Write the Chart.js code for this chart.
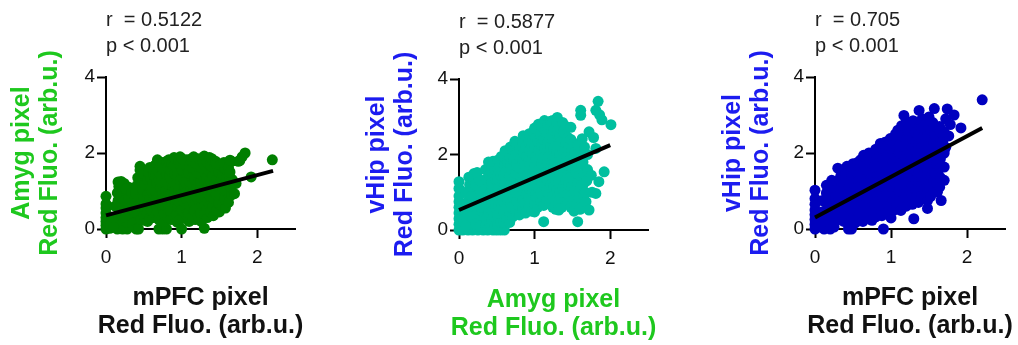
<!DOCTYPE html>
<html>
<head>
<meta charset="utf-8">
<script src="https://cdn.jsdelivr.net/npm/chart.js@4.4.0/dist/chart.umd.min.js"></script>
<style>
  html, body { margin: 0; padding: 0; background: #fff; }
  #wrap { position: relative; width: 1018px; height: 345px; }
  #wrap canvas { position: absolute; top: 0; }
</style>
</head>
<body>
<div id="wrap">
  <canvas id="c1" width="340" height="345" style="left:0px"></canvas>
  <canvas id="c2" width="340" height="345" style="left:340px"></canvas>
  <canvas id="c3" width="338" height="345" style="left:680px"></canvas>
</div>
<script>
// pixel red fluorescence: [x, y]
const mpfcAmygPoints = [
  [0,0],[0,0.1],[0,0.2],[0,0.3],[0,0.42],[0,0.55],[0,0.66],[0,0.86],
  [0.05,0.02],[0.04,0.25],[0.06,0.12],
  [0.15,0],[0.16,0.15],[0.15,0.35],[0.17,0.55],[0.16,0.75],[0.15,0.95],[0.17,1.12],[0.16,1.24],
  [0.22,0],[0.21,0.2],[0.23,0.4],[0.22,0.6],[0.2,0.8],[0.22,1.0],[0.24,1.2],[0.2,1.25],
  [0.28,0],[0.27,0.18],[0.29,0.42],[0.28,0.65],[0.27,0.9],[0.3,1.1],[0.33,0.55],[0.33,0.3],
  [0.1,0.05],[0.1,0.3],[0.12,0.6],[0.18,0.45],[0.19,0.9],[0.25,0.3],[0.25,0.75],[0.26,1.05],[0.3,0.8],[0.34,0.95],[0.35,0.15],
  [0.4,0],[0.43,0],[0.7,0],[0.75,0],[0.8,0],[1.0,0],[1.3,0.02],[0.5,0.23],
  [0.38,0.45],[0.4,0.7],[0.39,0.95],[0.41,1.15],[0.42,1.35],
  [0.46,0.25],[0.47,0.55],[0.45,0.8],[0.48,1.05],[0.46,1.3],[0.45,1.55],[0.45,1.65],
  [0.5,0.35],[0.5,0.78],[0.51,1.18],[0.5,1.45],
  [0.55,0.2],[0.54,0.4],[0.56,0.65],[0.55,0.9],[0.57,1.1],[0.55,1.3],[0.56,1.5],
  [0.58,0.28],[0.59,0.55],[0.58,0.82],[0.6,1.05],[0.59,1.35],[0.58,1.62],
  [0.62,0.3],[0.6,0.5],[0.63,0.75],[0.61,0.98],[0.62,1.2],[0.63,1.42],[0.61,1.6],
  [0.66,0.38],[0.67,0.6],[0.66,0.8],[0.65,1.0],[0.67,1.22],[0.66,1.45],[0.65,1.68],
  [0.7,0.25],[0.69,0.45],[0.71,0.68],[0.7,0.88],[0.72,1.08],[0.7,1.3],[0.69,1.52],[0.71,1.7],[0.68,1.82],
  [0.74,0.3],[0.75,0.55],[0.74,0.78],[0.75,0.98],[0.74,1.18],[0.73,1.4],[0.75,1.58],[0.74,1.75],
  [0.78,0.2],[0.77,0.4],[0.79,0.62],[0.77,0.82],[0.79,1.02],[0.78,1.22],[0.8,1.45],[0.77,1.62],[0.8,1.78],
  [0.82,0.3],[0.83,0.58],[0.82,0.78],[0.83,0.98],[0.82,1.18],[0.84,1.4],[0.82,1.62],[0.83,1.82],
  [0.86,0.25],[0.85,0.48],[0.87,0.7],[0.85,0.9],[0.88,1.12],[0.86,1.32],[0.85,1.55],[0.87,1.72],[0.9,1.88],
  [0.9,0.35],[0.91,0.6],[0.9,0.8],[0.91,1.02],[0.9,1.22],[0.91,1.45],[0.9,1.65],
  [0.94,0.18],[0.93,0.38],[0.95,0.58],[0.93,0.8],[0.96,1.0],[0.94,1.2],[0.95,1.42],[0.93,1.62],[0.96,1.8],
  [0.98,0.25],[0.99,0.48],[0.98,0.7],[0.99,0.9],[0.98,1.1],[0.99,1.3],[0.98,1.52],[0.99,1.7],[0.98,1.9],
  [1.02,0.3],[1.01,0.5],[1.03,0.72],[1.0,0.92],[1.04,1.12],[1.02,1.34],[1.01,1.55],[1.03,1.75],[1.0,1.86],
  [1.06,0.38],[1.07,0.6],[1.06,0.8],[1.07,1.0],[1.06,1.22],[1.07,1.42],[1.06,1.65],[1.07,1.82],
  [1.1,0.2],[1.09,0.42],[1.11,0.62],[1.1,0.85],[1.12,1.05],[1.1,1.25],[1.09,1.48],[1.11,1.68],[1.13,1.85],
  [1.14,0.32],[1.15,0.55],[1.14,0.75],[1.15,0.98],[1.14,1.18],[1.15,1.4],[1.14,1.6],[1.15,1.78],
  [1.18,0.25],[1.17,0.48],[1.19,0.7],[1.18,0.9],[1.2,1.12],[1.17,1.32],[1.19,1.55],[1.18,1.72],[1.16,1.9],
  [1.22,0.32],[1.23,0.58],[1.22,0.78],[1.23,1.0],[1.22,1.22],[1.23,1.45],[1.22,1.65],[1.23,1.85],
  [1.26,0.2],[1.25,0.4],[1.27,0.62],[1.26,0.82],[1.28,1.02],[1.25,1.22],[1.27,1.42],[1.26,1.62],[1.28,1.8],[1.3,1.92],
  [1.3,0.4],[1.31,0.62],[1.3,0.85],[1.31,1.08],[1.3,1.28],[1.31,1.48],[1.3,1.7],
  [1.34,0.3],[1.33,0.52],[1.35,0.72],[1.34,0.95],[1.36,1.15],[1.33,1.35],[1.35,1.55],[1.34,1.75],[1.37,1.88],
  [1.38,0.45],[1.39,0.65],[1.38,0.85],[1.39,1.05],[1.38,1.28],[1.39,1.48],[1.38,1.68],[1.4,1.85],
  [1.42,0.35],[1.41,0.58],[1.43,0.8],[1.42,1.0],[1.44,1.2],[1.41,1.4],[1.43,1.6],[1.45,1.78],
  [1.46,0.48],[1.47,0.7],[1.46,0.92],[1.47,1.12],[1.46,1.32],[1.47,1.52],[1.46,1.7],
  [1.5,0.45],[1.49,0.68],[1.51,0.9],[1.5,1.1],[1.52,1.3],[1.49,1.5],[1.51,1.68],
  [1.54,0.6],[1.55,0.82],[1.54,1.05],[1.55,1.25],[1.54,1.45],[1.55,1.62],
  [1.58,0.55],[1.57,0.78],[1.59,1.0],[1.58,1.2],[1.6,1.4],[1.57,1.6],[1.56,1.75],
  [1.62,0.7],[1.63,0.95],[1.62,1.2],[1.63,1.4],[1.62,1.62],
  [1.66,0.9],[1.65,1.1],[1.67,1.3],[1.64,1.5],[1.66,1.78],[1.7,0.93],[1.72,1.2],[1.75,1.78],
  [1.64,1.81],[1.77,1.8],[1.84,2.0],[1.8,1.9],[1.92,1.37],[2.2,1.82]
];
const amygVhipPoints = [
  [0,0],[0,0.15],[0,0.3],[0,0.45],[0,0.6],[0,0.75],[0,0.9],[0,1.1],[0,1.28],
  [0.05,0],[0.06,0.2],[0.04,0.5],
  [0.12,0],[0.13,0.2],[0.12,0.4],[0.14,0.6],[0.13,0.8],[0.12,1.0],[0.14,1.2],[0.13,1.4],
  [0.18,0],[0.19,0.25],[0.2,0.5],[0.18,0.75],[0.2,1.0],[0.19,1.25],[0.2,1.5],
  [0.25,0],[0.26,0.3],[0.24,0.55],[0.26,0.85],[0.25,1.1],[0.26,1.35],[0.24,1.52],
  [0.32,0],[0.31,0.2],[0.33,0.45],[0.32,0.7],[0.3,0.95],[0.33,1.2],
  [0.09,0.1],[0.09,0.35],[0.1,0.7],[0.09,1.0],[0.16,0.35],[0.16,0.9],[0.16,1.15],[0.22,0.15],[0.22,0.65],[0.22,1.2],
  [0.28,0.1],[0.29,0.6],[0.29,1.0],[0.28,1.3],[0.35,0.1],
  [0.38,0],[0.45,0],[0.5,0],[0.55,0],[0.6,0],[0.42,0.05],
  [0.36,0.3],[0.36,0.6],[0.36,0.85],[0.37,1.1],[0.36,1.35],[0.35,1.6],
  [0.4,0.2],[0.39,0.45],[0.41,0.7],[0.4,0.95],[0.42,1.2],[0.4,1.45],[0.39,1.8],
  [0.43,0.25],[0.44,0.5],[0.43,0.75],[0.44,1.0],[0.43,1.25],[0.44,1.5],[0.43,1.7],
  [0.47,0.1],[0.46,0.35],[0.48,0.6],[0.47,0.85],[0.46,1.1],[0.48,1.35],[0.47,1.6],[0.45,1.82],
  [0.51,0.12],[0.51,0.35],[0.52,0.6],[0.51,0.85],[0.52,1.1],[0.51,1.35],[0.52,1.6],[0.51,1.85],
  [0.55,0.2],[0.54,0.45],[0.56,0.7],[0.55,0.95],[0.57,1.2],[0.55,1.45],[0.54,1.7],[0.56,1.95],
  [0.59,0.2],[0.59,0.45],[0.6,0.7],[0.59,0.95],[0.6,1.2],[0.59,1.45],[0.6,1.7],[0.59,1.95],
  [0.63,0.3],[0.62,0.55],[0.64,0.8],[0.63,1.05],[0.65,1.3],[0.62,1.55],[0.64,1.8],[0.61,2.1],
  [0.67,0.2],[0.67,0.45],[0.68,0.7],[0.67,0.95],[0.68,1.2],[0.67,1.45],[0.68,1.7],[0.67,1.95],[0.68,2.2],
  [0.71,0.35],[0.7,0.6],[0.72,0.85],[0.71,1.1],[0.73,1.35],[0.7,1.6],[0.72,1.85],[0.71,2.1],[0.74,2.35],
  [0.75,0.5],[0.76,0.75],[0.75,1.0],[0.76,1.25],[0.75,1.5],[0.76,1.75],[0.75,2.0],[0.76,2.25],
  [0.8,0.4],[0.79,0.65],[0.81,0.9],[0.8,1.15],[0.82,1.4],[0.79,1.65],[0.81,1.9],[0.8,2.15],[0.85,2.5],
  [0.84,0.55],[0.84,0.8],[0.85,1.05],[0.84,1.3],[0.85,1.55],[0.84,1.8],[0.85,2.05],[0.84,2.3],
  [0.88,0.45],[0.87,0.7],[0.89,0.95],[0.88,1.2],[0.9,1.45],[0.87,1.7],[0.89,1.95],[0.88,2.2],[0.9,2.45],
  [0.92,0.6],[0.92,0.85],[0.93,1.1],[0.92,1.35],[0.93,1.6],[0.92,1.85],[0.93,2.1],[0.92,2.35],[0.93,2.55],
  [0.96,0.5],[0.95,0.75],[0.97,1.0],[0.96,1.25],[0.98,1.5],[0.95,1.75],[0.97,2.0],[0.96,2.25],[0.98,2.6],
  [1.0,0.48],[1.0,0.7],[1.01,0.95],[1.0,1.2],[1.01,1.45],[1.0,1.7],[1.01,1.95],[1.0,2.2],[1.01,2.45],[1.0,2.7],
  [1.04,0.6],[1.03,0.85],[1.05,1.1],[1.04,1.35],[1.06,1.6],[1.03,1.85],[1.05,2.1],[1.04,2.35],[1.06,2.6],[1.05,2.8],
  [1.08,0.75],[1.08,1.0],[1.09,1.25],[1.08,1.5],[1.09,1.75],[1.08,2.0],[1.09,2.25],[1.08,2.5],[1.09,2.75],
  [1.12,0.22],[1.12,0.65],[1.11,0.9],[1.13,1.15],[1.12,1.4],[1.14,1.65],[1.11,1.9],[1.13,2.15],[1.12,2.4],[1.14,2.65],[1.13,2.9],
  [1.16,0.8],[1.16,1.05],[1.17,1.3],[1.16,1.55],[1.17,1.8],[1.16,2.05],[1.17,2.3],[1.16,2.55],[1.17,2.8],
  [1.2,0.7],[1.19,0.95],[1.21,1.2],[1.2,1.45],[1.22,1.7],[1.19,1.95],[1.21,2.2],[1.2,2.45],[1.22,2.7],[1.21,2.88],
  [1.24,0.6],[1.24,0.9],[1.25,1.15],[1.24,1.4],[1.25,1.65],[1.24,1.9],[1.25,2.15],[1.24,2.4],[1.25,2.65],[1.24,2.9],
  [1.28,0.55],[1.27,0.8],[1.29,1.05],[1.28,1.3],[1.3,1.55],[1.27,1.8],[1.29,2.05],[1.28,2.3],[1.3,2.55],[1.29,2.8],[1.3,2.98],
  [1.32,0.53],[1.32,0.75],[1.33,1.0],[1.32,1.25],[1.33,1.5],[1.32,1.75],[1.33,2.0],[1.32,2.25],[1.33,2.5],[1.32,2.75],
  [1.36,0.6],[1.35,0.85],[1.37,1.1],[1.36,1.35],[1.38,1.6],[1.35,1.85],[1.37,2.1],[1.36,2.35],[1.38,2.6],[1.37,2.85],
  [1.4,0.8],[1.4,1.05],[1.41,1.3],[1.4,1.55],[1.41,1.8],[1.4,2.05],[1.41,2.3],[1.4,2.55],[1.41,2.75],
  [1.44,0.7],[1.43,0.95],[1.45,1.2],[1.44,1.45],[1.46,1.7],[1.43,1.95],[1.45,2.2],[1.44,2.45],[1.48,2.72],
  [1.48,0.6],[1.48,0.9],[1.49,1.15],[1.48,1.4],[1.49,1.65],[1.48,1.9],[1.49,2.15],[1.48,2.4],
  [1.52,0.5],[1.51,0.8],[1.53,1.05],[1.52,1.3],[1.54,1.55],[1.51,1.8],[1.53,2.05],[1.52,2.3],
  [1.56,0.7],[1.56,0.95],[1.57,1.25],[1.56,1.5],[1.57,1.75],[1.56,2.0],[1.57,2.25],
  [1.57,0.22],[1.6,0.55],[1.59,0.85],[1.61,1.15],[1.6,1.45],[1.62,1.75],[1.63,2.0],[1.63,2.42],[1.61,3.17],[1.61,3.04],
  [1.64,0.6],[1.65,0.9],[1.64,1.2],[1.65,1.5],[1.64,1.8],
  [1.68,0.75],[1.67,1.0],[1.69,1.3],[1.72,0.53],[1.7,1.6],[1.7,2.0],[1.66,2.2],[1.72,2.6],[1.78,2.45],[1.75,1.45],
  [1.81,0.97],[1.76,1.0],[1.85,1.28],[1.92,1.54],[1.81,2.16],[1.84,3.41],[1.81,3.17],[1.86,3.05],[1.89,2.92],[2.01,2.79]
];
const mpfcVhipPoints = [
  [0,0],[0,0.12],[0,0.25],[0,0.38],[0,0.5],[0,0.65],[0,0.8],[0,1.02],
  [0.05,0.05],[0.06,0.3],
  [0.12,0],[0.13,0.2],[0.12,0.45],[0.14,0.7],[0.15,0.95],[0.15,1.15],
  [0.2,0],[0.21,0.25],[0.2,0.5],[0.22,0.75],[0.21,1.0],[0.22,1.28],[0.25,0.05],[0.26,0.4],[0.25,0.65],
  [0.09,0.15],[0.09,0.45],[0.1,0.75],[0.17,0.35],[0.17,0.85],[0.18,1.05],[0.27,0.2],[0.27,0.85],[0.26,1.1],
  [0.44,0],[0.48,0],[0.9,0],[0.75,0.23],[0.53,0.16],
  [0.3,0.3],[0.32,0.55],[0.31,0.8],[0.3,1.05],[0.32,1.3],[0.3,1.6],
  [0.34,0.4],[0.35,0.68],[0.34,0.92],[0.35,1.15],[0.34,1.4],
  [0.38,0.2],[0.39,0.45],[0.38,0.7],[0.4,0.95],[0.38,1.2],[0.4,1.45],[0.42,1.65],
  [0.42,0.3],[0.43,0.58],[0.42,0.82],[0.43,1.05],[0.42,1.3],[0.43,1.52],
  [0.46,0.1],[0.47,0.35],[0.46,0.6],[0.48,0.85],[0.46,1.1],[0.48,1.35],[0.47,1.6],[0.5,1.72],
  [0.5,0.25],[0.51,0.48],[0.5,0.72],[0.51,0.95],[0.5,1.2],[0.51,1.45],[0.5,1.62],
  [0.55,0.25],[0.54,0.5],[0.56,0.75],[0.55,1.0],[0.57,1.25],[0.54,1.5],[0.56,1.75],
  [0.59,0.38],[0.59,0.62],[0.6,0.88],[0.59,1.12],[0.6,1.38],[0.59,1.6],[0.6,1.82],
  [0.63,0.2],[0.62,0.45],[0.64,0.7],[0.63,0.95],[0.65,1.2],[0.62,1.45],[0.64,1.7],[0.64,1.94],
  [0.67,0.35],[0.67,0.58],[0.68,0.82],[0.67,1.08],[0.68,1.32],[0.67,1.58],[0.68,1.85],
  [0.71,0.3],[0.7,0.55],[0.72,0.8],[0.71,1.05],[0.73,1.3],[0.7,1.55],[0.72,1.8],[0.71,2.0],
  [0.75,0.45],[0.76,0.68],[0.75,0.92],[0.76,1.18],[0.75,1.42],[0.76,1.68],[0.75,1.92],
  [0.8,0.32],[0.79,0.65],[0.81,0.9],[0.8,1.15],[0.82,1.4],[0.79,1.65],[0.81,1.9],[0.8,2.1],
  [0.84,0.5],[0.84,0.75],[0.85,1.0],[0.84,1.25],[0.85,1.5],[0.84,1.75],[0.85,1.98],
  [0.88,0.35],[0.87,0.6],[0.89,0.85],[0.88,1.1],[0.9,1.35],[0.87,1.6],[0.89,1.85],[0.9,2.05],[0.86,2.25],
  [0.92,0.55],[0.92,0.8],[0.93,1.05],[0.92,1.3],[0.93,1.55],[0.92,1.8],[0.93,2.05],[0.92,2.28],
  [0.96,0.45],[0.95,0.7],[0.97,0.95],[0.96,1.2],[0.98,1.45],[0.95,1.7],[0.97,1.95],[0.96,2.2],[0.99,2.38],
  [1.0,0.62],[1.0,0.88],[1.01,1.12],[1.0,1.38],[1.01,1.62],[1.0,1.88],[1.01,2.12],[1.0,2.35],
  [1.0,0.29],[1.04,0.5],[1.03,0.75],[1.05,1.0],[1.04,1.25],[1.06,1.5],[1.03,1.75],[1.05,2.0],[1.04,2.25],[1.06,2.5],
  [1.08,0.62],[1.08,0.88],[1.09,1.12],[1.08,1.38],[1.09,1.62],[1.08,1.88],[1.09,2.12],[1.08,2.38],[1.09,2.6],
  [1.13,0.49],[1.12,0.75],[1.11,1.0],[1.13,1.25],[1.12,1.5],[1.14,1.75],[1.11,2.0],[1.13,2.25],[1.12,2.5],[1.14,2.72],
  [1.16,0.7],[1.16,0.95],[1.17,1.2],[1.16,1.45],[1.17,1.7],[1.16,1.95],[1.17,2.2],[1.16,2.45],[1.17,2.7],
  [1.2,0.6],[1.19,0.85],[1.21,1.1],[1.2,1.35],[1.22,1.6],[1.19,1.85],[1.21,2.1],[1.2,2.35],[1.22,2.6],[1.2,2.82],[1.17,2.99],
  [1.24,0.75],[1.24,1.0],[1.25,1.25],[1.24,1.5],[1.25,1.75],[1.24,2.0],[1.25,2.25],[1.24,2.5],[1.25,2.75],
  [1.3,0.27],[1.28,0.65],[1.27,0.9],[1.29,1.15],[1.28,1.4],[1.3,1.65],[1.27,1.9],[1.29,2.15],[1.28,2.4],[1.3,2.65],[1.29,2.85],
  [1.32,0.8],[1.32,1.05],[1.33,1.3],[1.32,1.55],[1.33,1.8],[1.32,2.05],[1.33,2.3],[1.32,2.55],[1.33,2.8],
  [1.36,0.7],[1.35,0.95],[1.37,1.2],[1.36,1.45],[1.38,1.7],[1.35,1.95],[1.37,2.2],[1.36,2.45],[1.38,2.7],[1.37,3.12],
  [1.4,0.9],[1.4,1.15],[1.41,1.4],[1.4,1.65],[1.41,1.9],[1.4,2.15],[1.41,2.4],[1.4,2.65],[1.41,2.9],
  [1.48,0.54],[1.44,0.8],[1.43,1.05],[1.45,1.3],[1.44,1.55],[1.46,1.8],[1.43,2.05],[1.45,2.3],[1.44,2.55],[1.46,2.75],[1.5,2.95],
  [1.48,0.75],[1.48,1.0],[1.49,1.25],[1.48,1.5],[1.49,1.75],[1.48,2.0],[1.49,2.25],[1.48,2.5],[1.49,2.75],
  [1.52,0.85],[1.51,1.1],[1.53,1.35],[1.52,1.6],[1.54,1.85],[1.51,2.1],[1.53,2.35],[1.52,2.6],[1.55,2.8],[1.57,3.17],
  [1.56,1.0],[1.56,1.25],[1.57,1.5],[1.56,1.75],[1.57,2.0],[1.56,2.25],[1.57,2.5],[1.56,2.72],
  [1.66,0.75],[1.61,0.97],[1.6,1.2],[1.62,1.45],[1.6,1.7],[1.63,1.95],[1.6,2.2],[1.62,2.45],[1.64,2.7],
  [1.64,1.1],[1.65,1.35],[1.64,1.6],[1.65,1.85],[1.64,2.1],[1.65,2.35],[1.64,2.55],
  [1.7,1.28],[1.7,1.63],[1.7,2.0],[1.72,2.15],[1.68,2.3],[1.76,2.45],[1.7,2.55],[1.72,2.9],[1.74,3.16],[1.78,2.75],
  [1.83,3.0],[1.92,2.66],[2.2,3.4]
];

// linear fits: [x, y] end points
const mpfcAmygFit = [[0, 0.36], [2.21, 1.53]];
const amygVhipFit = [[0, 0.53], [2.0, 2.25]];
const mpfcVhipFit = [[0, 0.30], [2.2, 2.66]];

const mpfcAmygStats = ["r  = 0.5122", "p < 0.001"];
const amygVhipStats = ["r  = 0.5877", "p < 0.001"];
const mpfcVhipStats = ["r  = 0.705", "p < 0.001"];

const mpfcTitle = ["mPFC pixel", "Red Fluo. (arb.u.)"];
const amygTitle = ["Amyg pixel", "Red Fluo. (arb.u.)"];
const vhipTitle = ["vHip pixel", "Red Fluo. (arb.u.)"];

const xTickValues = [0, 1, 2];

const FONT = '"Liberation Sans", Arial, Helvetica, sans-serif';
const GREEN_TXT = "#1ec81e";
const BLUE_TXT = "#1c1cf0";

// r / p text above each plot (left-aligned on x = 0) and the x-axis title,
// which is wider than the axis, so Chart.js' own title would be squeezed
const textPlugin = {
  id: "panelText",
  afterDraw(chart, args, opts) {
    const ctx = chart.ctx;
    const area = chart.chartArea;
    const x0 = chart.scales.x.getPixelForValue(0);
    ctx.save();
    ctx.textBaseline = "middle";
    ctx.font = "20px " + FONT;
    ctx.fillStyle = "#222";
    ctx.textAlign = "left";
    opts.stats.forEach((t, i) => ctx.fillText(t, x0, opts.statsTop + i * 26));
    ctx.font = "bold 25px " + FONT;
    ctx.fillStyle = opts.xTitleColor;
    ctx.textAlign = "center";
    const cx = (area.left + area.right) / 2;
    opts.xTitle.forEach((t, i) => ctx.fillText(t, cx, opts.xTitleTop + i * 28.5));
    ctx.restore();
  }
};

function toXY(pairs) {
  return pairs.map(([x, y]) => ({ x, y }));
}

function makePanel(id, cfg) {
  const canvas = document.getElementById(id);
  const W = canvas.width, H = canvas.height;
  const a = cfg.area;
  return new Chart(canvas.getContext("2d"), {
    type: "scatter",
    data: {
      datasets: [
        {
          type: "line",
          data: toXY(cfg.fit),
          borderColor: "#000",
          borderWidth: 4,
          pointRadius: 0,
          order: 0,
          clip: false,
        },
        {
          data: toXY(cfg.points),
          backgroundColor: cfg.color,
          pointBorderWidth: 0,
          pointBorderColor: cfg.color,
          pointRadius: 5.5,
          order: 1,
          clip: false,
        },
      ],
    },
    plugins: [textPlugin],
    options: {
      responsive: false,
      animation: false,
      layout: { padding: { left: 0, top: a.top, right: W - a.right, bottom: 0 } },
      plugins: {
        legend: { display: false },
        tooltip: { enabled: false },
        panelText: {
          stats: cfg.stats, statsTop: cfg.statsTop,
          xTitle: cfg.xTitle, xTitleColor: cfg.xTitleColor, xTitleTop: cfg.xTitleTop,
        },
      },
      scales: {
        x: {
          type: "linear",
          min: 0,
          max: 2.5,
          afterFit: (s) => { s.height = H - a.bottom; },
          afterBuildTicks: (s) => { s.ticks = xTickValues.map((v) => ({ value: v })); },
          grid: { drawOnChartArea: false, tickLength: 9, tickWidth: 2, tickColor: "#000" },
          border: { color: "#000", width: 2 },
          ticks: { color: "#111", padding: 8, font: { size: 19, family: FONT } },
        },
        y: {
          type: "linear",
          min: 0,
          max: 4,
          afterFit: (s) => { s.width = a.left; },
          grid: { drawOnChartArea: false, tickLength: 9, tickWidth: 2, tickColor: "#000" },
          border: { color: "#000", width: 2 },
          ticks: { stepSize: 2, color: "#111", padding: 2, font: { size: 19, family: FONT } },
          title: {
            display: true,
            text: cfg.yTitle,
            color: cfg.yTitleColor,
            padding: { top: cfg.yTitlePad, bottom: 0 },
            font: { size: 25, weight: "bold", family: FONT, lineHeight: 1.12 },
          },
        },
      },
    },
  });
}

makePanel("c1", {
  points: mpfcAmygPoints, fit: mpfcAmygFit, color: "#007f00", stats: mpfcAmygStats, statsTop: 20,
  xTitle: mpfcTitle, xTitleColor: "#111", xTitleTop: 298, yTitle: amygTitle, yTitleColor: GREEN_TXT,
  area: { left: 106, right: 295, top: 77, bottom: 229 }, yTitlePad: 8,
});
makePanel("c2", {
  points: amygVhipPoints, fit: amygVhipFit, color: "#00bf9f", stats: amygVhipStats, statsTop: 22,
  xTitle: amygTitle, xTitleColor: GREEN_TXT, xTitleTop: 300, yTitle: vhipTitle, yTitleColor: BLUE_TXT,
  area: { left: 119, right: 308, top: 79, bottom: 230 }, yTitlePad: 23,
});
makePanel("c3", {
  points: mpfcVhipPoints, fit: mpfcVhipFit, color: "#0000bf", stats: mpfcVhipStats, statsTop: 20,
  xTitle: mpfcTitle, xTitleColor: "#111", xTitleTop: 298, yTitle: vhipTitle, yTitleColor: BLUE_TXT,
  area: { left: 135, right: 325, top: 77, bottom: 229 }, yTitlePad: 39,
});
</script>
</body>
</html>
